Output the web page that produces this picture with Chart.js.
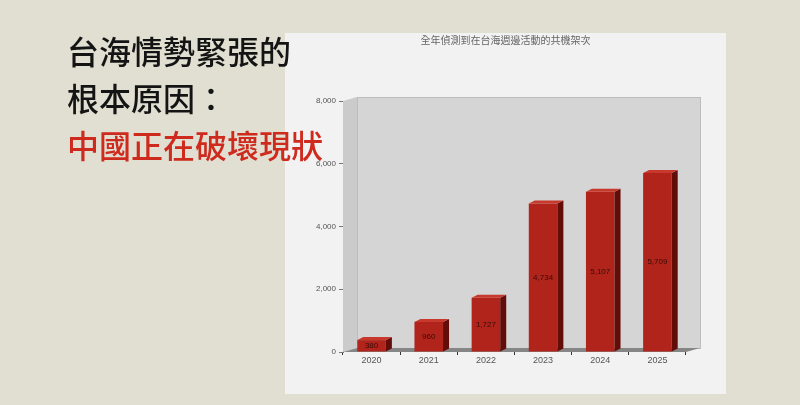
<!DOCTYPE html>
<html lang="zh-Hant">
<head>
<meta charset="utf-8">
<script src="https://cdn.jsdelivr.net/npm/chart.js@4"></script>
<style>
  html, body { margin: 0; padding: 0; }
  body { width: 800px; height: 405px; background: #e0dfd1; position: relative; overflow: hidden;
         font-family: "Noto Sans CJK TC", "Noto Sans", sans-serif; }
  #panel { position: absolute; left: 285px; top: 33px; width: 441px; height: 361px; background: #f2f2f2; }
  #chartBox { position: absolute; left: 285px; top: 28px; }
  #headline { position: absolute; left: 67px; top: 27px; font-size: 32px; line-height: 47px;
              font-weight: 500; color: #141414; z-index: 2; white-space: nowrap; }
  #headline .red { color: #cf2a1e; }
</style>
</head>
<body>
<div id="panel"></div>
<div id="chartBox"><canvas id="chartSorties" width="441" height="367"></canvas></div>
<div id="headline">
  <div>台海情勢緊張的</div>
  <div>根本原因：</div>
  <div class="red">中國正在破壞現狀</div>
</div>

<script>
// data
const years = ['2020', '2021', '2022', '2023', '2024', '2025'];
const sorties = [380, 960, 1727, 4734, 5107, 5709];
const chartTitle = '全年偵測到在台海週邊活動的共機架次';

// fake 3D: back wall, side wall and floor behind the bars
const wallPlugin = {
  id: 'wall3d',
  beforeDatasetsDraw(chart) {
    const { ctx, chartArea: a } = chart;
    const dx = 14, dy = 4;
    ctx.save();
    // back wall
    ctx.fillStyle = '#d5d5d5';
    ctx.fillRect(a.left + dx, a.top - dy, a.right - a.left, a.bottom - a.top);
    ctx.strokeStyle = '#bdbdbd';
    ctx.lineWidth = 1;
    ctx.strokeRect(a.left + dx + 0.5, a.top - dy + 0.5, a.right - a.left, a.bottom - a.top);
    // left side wall
    ctx.fillStyle = '#cbcbcb';
    ctx.beginPath();
    ctx.moveTo(a.left, a.top);
    ctx.lineTo(a.left + dx, a.top - dy);
    ctx.lineTo(a.left + dx, a.bottom - dy);
    ctx.lineTo(a.left, a.bottom);
    ctx.closePath();
    ctx.fill();
    // floor
    ctx.fillStyle = '#868686';
    ctx.beginPath();
    ctx.moveTo(a.left, a.bottom);
    ctx.lineTo(a.left + dx, a.bottom - dy);
    ctx.lineTo(a.right + dx, a.bottom - dy);
    ctx.lineTo(a.right, a.bottom);
    ctx.closePath();
    ctx.fill();
    ctx.restore();
  },
  afterDatasetsDraw(chart) {
    const { ctx } = chart;
    const meta = chart.getDatasetMeta(0);
    const bdx = 6, bdy = 3;
    ctx.save();
    meta.data.forEach((bar, i) => {
      const { x, y, base, width } = bar.getProps(['x', 'y', 'base', 'width'], true);
      const l = x - width / 2, r = x + width / 2;
      // side
      ctx.fillStyle = '#620d08';
      ctx.beginPath();
      ctx.moveTo(r, y);
      ctx.lineTo(r + bdx, y - bdy);
      ctx.lineTo(r + bdx, base - bdy);
      ctx.lineTo(r, base);
      ctx.closePath();
      ctx.fill();
      // top
      ctx.fillStyle = '#c7392d';
      ctx.beginPath();
      ctx.moveTo(l, y);
      ctx.lineTo(l + bdx, y - bdy);
      ctx.lineTo(r + bdx, y - bdy);
      ctx.lineTo(r, y);
      ctx.closePath();
      ctx.fill();
      // value label
      ctx.fillStyle = '#3a0b07';
      ctx.font = '8px "Liberation Sans", Arial, sans-serif';
      ctx.textAlign = 'center';
      ctx.textBaseline = 'middle';
      ctx.fillText(sorties[i].toLocaleString('en-US'), x, (y + base) / 2);
    });
    ctx.restore();
  }
};

new Chart(document.getElementById('chartSorties'), {
  type: 'bar',
  data: {
    labels: years,
    datasets: [{
      data: sorties,
      backgroundColor: '#b1241b',
      borderWidth: 0,
      categoryPercentage: 1,
      barPercentage: 0.5
    }]
  },
  options: {
    responsive: false,
    animation: false,
    layout: { padding: { left: 0, right: 0, top: 0, bottom: 23 } },
    plugins: {
      legend: { display: false },
      tooltip: { enabled: false },
      title: {
        display: true,
        text: chartTitle,
        color: '#666',
        font: { size: 10, family: '"Noto Sans CJK TC", sans-serif', weight: 'normal' },
        padding: { top: 6, bottom: 55 }
      }
    },
    scales: {
      x: {
        afterFit(scale) { scale.height = 20; },
        grid: { drawOnChartArea: false, tickLength: 3, color: '#333' },
        border: { display: false },
        ticks: { color: '#555', padding: 0, font: { size: 9, family: '"Liberation Sans", Arial, sans-serif' } }
      },
      y: {
        min: 0,
        max: 8000,
        afterFit(scale) { scale.width = 58; },
        grid: { drawOnChartArea: false, tickLength: 4, color: '#777' },
        border: { display: true, color: '#777' },
        ticks: { stepSize: 2000, color: '#555', padding: 3, font: { size: 8, family: '"Liberation Sans", Arial, sans-serif' } }
      },
      // empty right-hand axis, only reserves room for the 3D wall
      spacer: {
        position: 'right',
        afterFit(scale) { scale.width = 40; },
        grid: { display: false },
        border: { display: false },
        ticks: { display: false }
      }
    }
  },
  plugins: [wallPlugin]
});
</script>
</body>
</html>
